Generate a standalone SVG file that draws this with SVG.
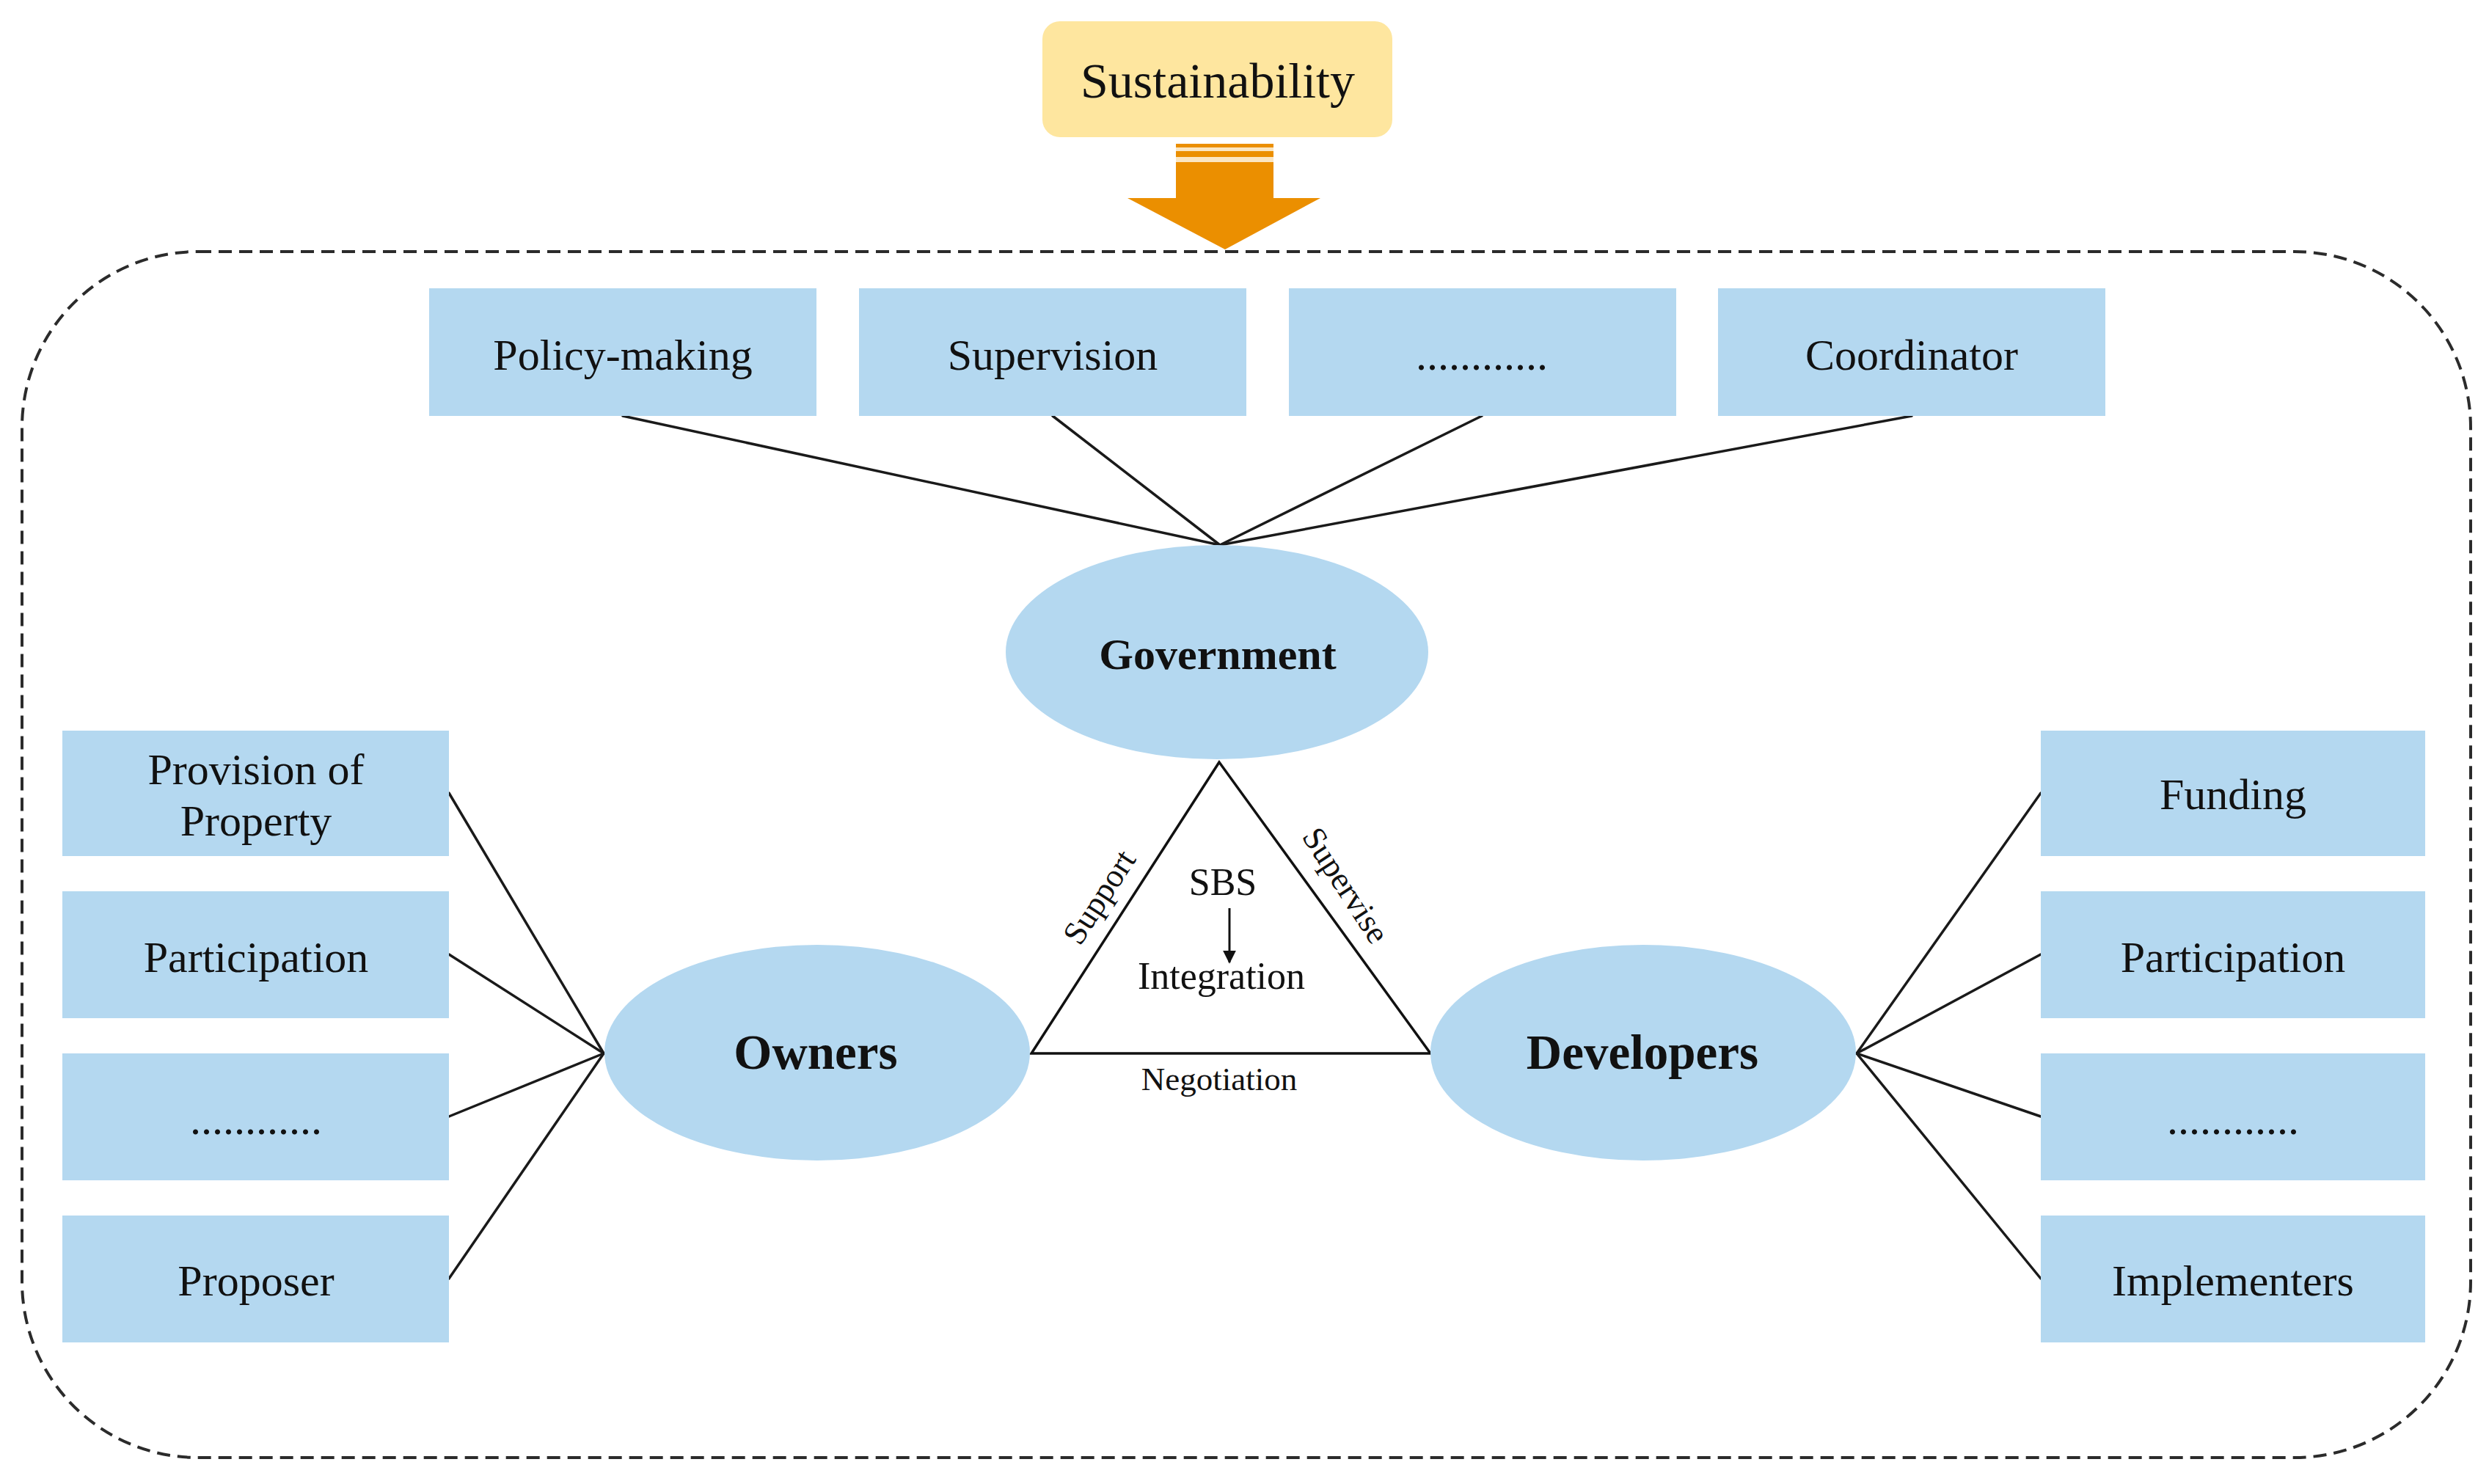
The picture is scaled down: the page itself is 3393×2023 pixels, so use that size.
<svg xmlns="http://www.w3.org/2000/svg" width="3393" height="2023" viewBox="0 0 3393 2023">
<style>
.box{fill:#b4d8f0}
.ell{fill:#b4d8f0}
.t{font-family:"Liberation Serif","Times New Roman",serif;font-size:60px;fill:#111;text-anchor:middle}
.b{font-weight:bold}
.c{stroke:#1a1a1a;stroke-width:3.5;fill:none;stroke-linecap:round}
</style>
<defs>
<marker id="ah" viewBox="0 0 10 10" refX="9" refY="5" markerWidth="18" markerHeight="20" markerUnits="userSpaceOnUse" orient="auto">
<path d="M0,0 L10,5 L0,10 z" fill="#111"/>
</marker>
</defs>
<rect width="3393" height="2023" fill="#ffffff"/>

<rect id="frame" x="30" y="343" width="3338" height="1644" rx="240" ry="240" fill="none" stroke="#2b2b2b" stroke-width="4" stroke-dasharray="18 10"/>

<g id="sustainability">
<rect x="1421" y="29" width="477" height="158" rx="24" fill="#fee69f"/>
<text class="t" x="1660" y="133" font-size="68" style="font-size:68px">Sustainability</text>
</g>

<g id="sustain-arrow">
<rect x="1603" y="196" width="133" height="26" fill="#fbe6c2"/>
<rect x="1603" y="196" width="133" height="5" fill="#eb8f00"/>
<rect x="1603" y="206" width="133" height="8" fill="#eb8f00"/>
<polygon points="1603,221 1736,221 1736,270 1800,270 1670,340 1537,270 1603,270" fill="#eb8f00"/>
</g>

<g id="connectors">
<line class="c" x1="849" y1="567" x2="1663" y2="743"/>
<line class="c" x1="1435" y1="567" x2="1663" y2="743"/>
<line class="c" x1="2020" y1="567" x2="1663" y2="743"/>
<line class="c" x1="2606" y1="567" x2="1663" y2="743"/>
<line class="c" x1="612" y1="1081" x2="823" y2="1436"/>
<line class="c" x1="612" y1="1301" x2="823" y2="1436"/>
<line class="c" x1="612" y1="1522" x2="823" y2="1436"/>
<line class="c" x1="612" y1="1743" x2="823" y2="1436"/>
<line class="c" x1="2782" y1="1081" x2="2531" y2="1436"/>
<line class="c" x1="2782" y1="1301" x2="2531" y2="1436"/>
<line class="c" x1="2782" y1="1522" x2="2531" y2="1436"/>
<line class="c" x1="2782" y1="1743" x2="2531" y2="1436"/>
</g>

<g id="policy-making">
<rect class="box" x="585" y="393" width="528" height="174"/>
<text class="t" x="849" y="504">Policy-making</text>
</g>
<g id="supervision">
<rect class="box" x="1171" y="393" width="528" height="174"/>
<text class="t" x="1435" y="504">Supervision</text>
</g>
<g id="gov-more">
<rect class="box" x="1757" y="393" width="528" height="174"/>
<text class="t" x="2020" y="504">............</text>
</g>
<g id="coordinator">
<rect class="box" x="2342" y="393" width="528" height="174"/>
<text class="t" x="2606" y="504">Coordinator</text>
</g>

<g id="government">
<ellipse class="ell" cx="1659" cy="889" rx="288" ry="146"/>
<text class="t b" x="1660" y="912">Government</text>
</g>

<g id="sbs-triangle">
<polygon points="1662,1039 1406,1436 1950,1436" fill="#ffffff" stroke="#111" stroke-width="3.5" stroke-linejoin="miter"/>
<text class="t" x="1667" y="1220" style="font-size:52px">SBS</text>
<line x1="1676" y1="1238" x2="1676" y2="1312" stroke="#111" stroke-width="3" marker-end="url(#ah)"/>
<text class="t" x="1665" y="1348" style="font-size:52px">Integration</text>
<text class="t" x="1662" y="1486" style="font-size:45px">Negotiation</text>
<text class="t" x="1511" y="1231" style="font-size:45px" transform="rotate(-57 1511 1231)">Support</text>
<text class="t" x="1822" y="1215" style="font-size:45px" transform="rotate(57 1822 1215)">Supervise</text>
</g>

<g id="owners">
<ellipse class="ell" cx="1114" cy="1435" rx="290" ry="147"/>
<text class="t b" x="1112" y="1457" style="font-size:67px">Owners</text>
</g>
<g id="developers">
<ellipse class="ell" cx="2240" cy="1435" rx="290" ry="147"/>
<text class="t b" x="2239" y="1457" style="font-size:67px">Developers</text>
</g>

<g id="provision-of-property">
<rect class="box" x="85" y="996" width="527" height="171"/>
<text class="t" x="349" y="1069">Provision of</text>
<text class="t" x="349" y="1139">Property</text>
</g>
<g id="owners-participation">
<rect class="box" x="85" y="1215" width="527" height="173"/>
<text class="t" x="349" y="1325">Participation</text>
</g>
<g id="owners-more">
<rect class="box" x="85" y="1436" width="527" height="173"/>
<text class="t" x="349" y="1546">............</text>
</g>
<g id="proposer">
<rect class="box" x="85" y="1657" width="527" height="173"/>
<text class="t" x="349" y="1766">Proposer</text>
</g>

<g id="funding">
<rect class="box" x="2782" y="996" width="524" height="171"/>
<text class="t" x="3044" y="1103">Funding</text>
</g>
<g id="developers-participation">
<rect class="box" x="2782" y="1215" width="524" height="173"/>
<text class="t" x="3044" y="1325">Participation</text>
</g>
<g id="developers-more">
<rect class="box" x="2782" y="1436" width="524" height="173"/>
<text class="t" x="3044" y="1546">............</text>
</g>
<g id="implementers">
<rect class="box" x="2782" y="1657" width="524" height="173"/>
<text class="t" x="3044" y="1766">Implementers</text>
</g>
</svg>
